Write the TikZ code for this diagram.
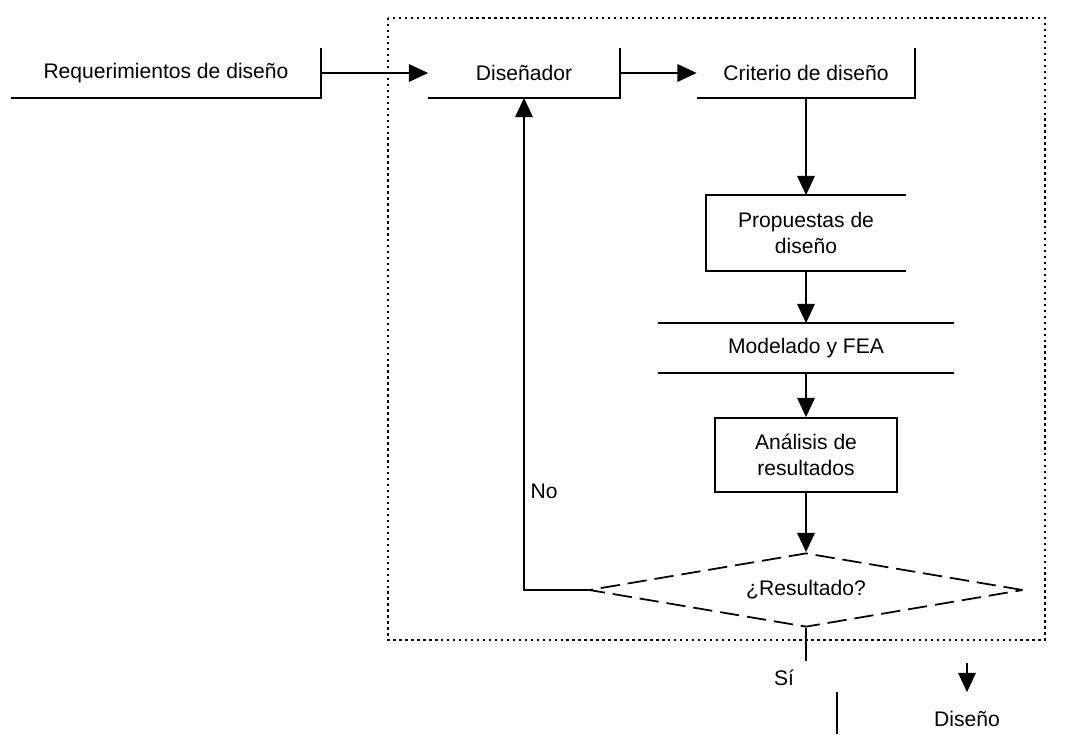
\documentclass[tikz,border=0pt]{standalone}
\usepackage{fontspec}
\setmainfont{Liberation Sans}
\usetikzlibrary{arrows.meta,shapes.geometric}

\begin{document}
\begin{tikzpicture}[x=0.02cm, y=-0.02cm, line width=1pt,
        font=\fontsize{12}{15}\selectfont,
        flow/.style={-{Triangle[width=10pt,length=11pt]}},
        openbox/.style={minimum height=0.96cm, inner sep=0pt},
        twoline/.style={minimum height=1.48cm, inner sep=0pt, align=center},
        decision/.style={diamond, draw, dash pattern=on 11pt off 4.5pt, inner sep=0pt,
            aspect=5.86, minimum width=8.68cm, minimum height=1.48cm}]
    \useasboundingbox (0,0) rectangle (1084,735);
    % area of the design loop
    \draw[dotted, line width=1.4pt] (388,18) rectangle (1045,640);

    \node[openbox, minimum width=6.16cm] (req) at (166,73) {Requerimientos de diseño};
    \node[openbox, minimum width=3.8cm] (dsr) at (524,73) {Diseñador};
    \node[openbox, minimum width=4.34cm] (crit) at (806,73) {Criterio de diseño};
    \node[twoline, minimum width=3.98cm] (prop) at (806,233) {Propuestas de\\diseño};
    \node[openbox, minimum width=5.88cm] (mod) at (806,348) {Modelado y FEA};
    \node[twoline, draw, minimum width=3.64cm] (ana) at (806,455) {Análisis de\\resultados};
    \node[decision] (dec) at (806,590) {¿Resultado?};
    \node[openbox, minimum width=5.16cm, minimum height=1.04cm] (dis) at (967,719) {Diseño};

    % open sides of the boxes
    \draw (req.north east) -- (req.south east) -- (req.south west);
    \draw (dsr.north east) -- (dsr.south east) -- (dsr.south west);
    \draw (crit.north east) -- (crit.south east) -- (crit.south west);
    \draw (prop.north east) -- (prop.north west) -- (prop.south west) -- (prop.south east);
    \draw (mod.north west) -- (mod.north east) (mod.south west) -- (mod.south east);
    \draw (dis.north west) -- ++(0,42);

    \draw[flow] (req) -- (dsr);
    \draw[flow] (dsr) -- (crit);
    \draw[flow] (crit) -- (prop);
    \draw[flow] (prop) -- (mod);
    \draw[flow] (mod) -- (ana);
    \draw[flow] (ana) -- (dec);
    \draw[flow] (dec.west) -| node[pos=0.6, right] (nolbl) {No} (dsr.south);

    \coordinate (siend) at (806,661);
    \draw (dec.south) -- (siend);
    \node (silbl) at (784,678) {Sí};
    \coordinate (disin) at (967,663);
    \draw[flow] (disin) -- (dis.north);
\end{tikzpicture}
\end{document}
